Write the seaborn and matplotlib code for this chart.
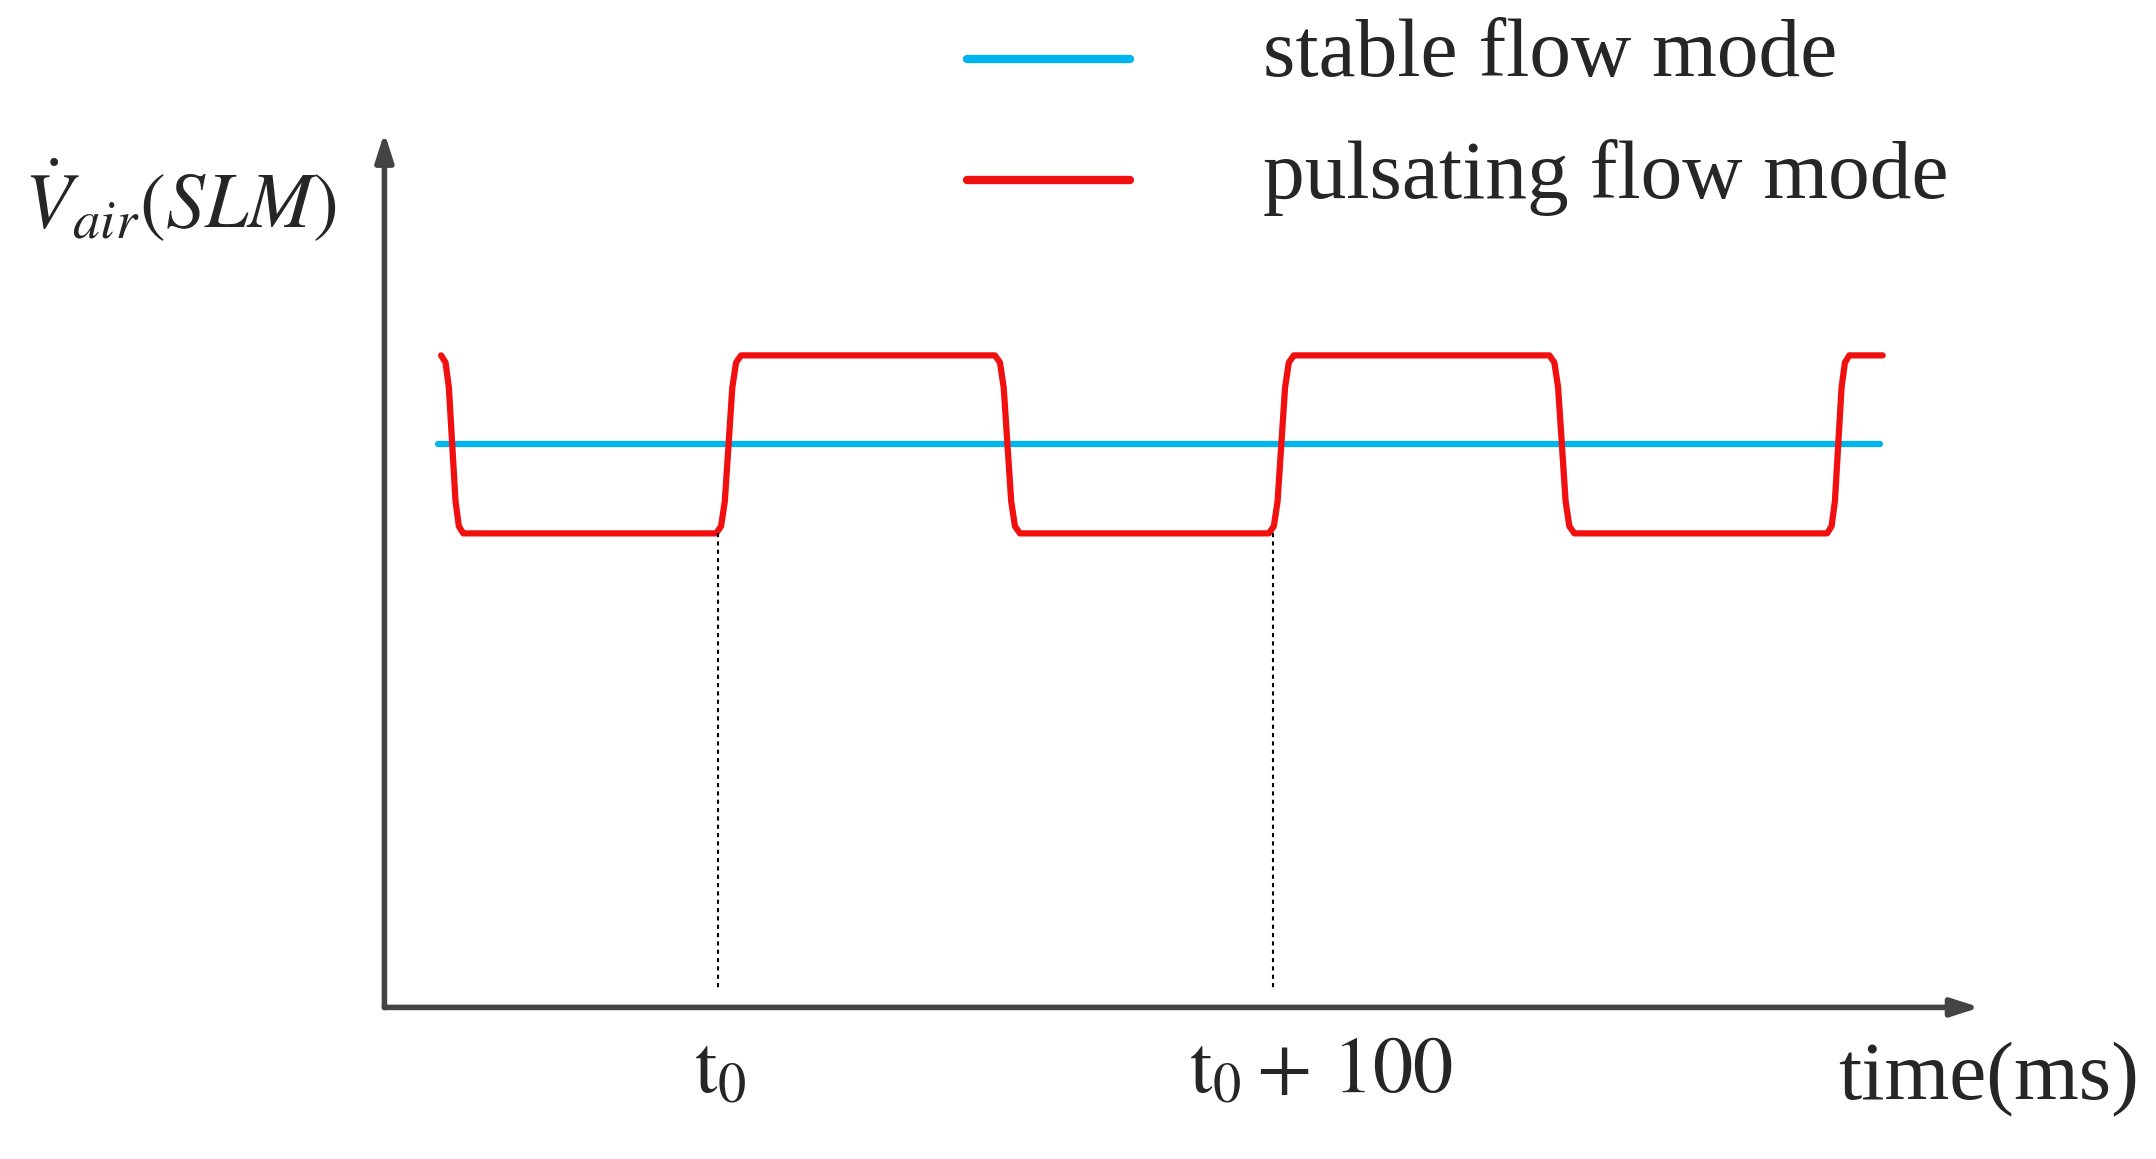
import numpy as np
import pandas as pd
import matplotlib
matplotlib.use("Agg")
import matplotlib.pyplot as plt
import seaborn as sns

sns.set_theme(style="white")
plt.rcParams['font.family'] = ['Liberation Serif', 'DejaVu Serif']
plt.rcParams['mathtext.fontset'] = 'stix'

# ---- data ----
# transitions of the pulsating flow (ms, relative to t0): (start, end, from_level, to_level)
trans_start = [-50.0, -0.5, 49.7, 99.0, 149.5, 199.5]
trans_end = [-46.0, 4.0, 54.2, 103.5, 154.0, 203.5]
trans_from = [1.3, 0.7, 1.3, 0.7, 1.3, 0.7]
trans_to = [0.7, 1.3, 0.7, 1.3, 0.7, 1.3]
t_last = 209.5
# rounded-edge template of one transition
shape_t = [0.0, 0.2, 0.35, 0.5, 0.65, 0.8, 1.0]
shape_v = [0.0, 0.04, 0.18, 0.5, 0.82, 0.96, 1.0]
stable_t = [-50.5, 209.0]
stable_v = [1.0, 1.0]
markers_t = [0.0, 100.0]
tick_labels = [r'$\mathrm{t}_{0}$', r'$\mathrm{t}_{0}+\,100$']

ts, vs = [], []
for s, e, a, b in zip(trans_start, trans_end, trans_from, trans_to):
    for ft, fv in zip(shape_t, shape_v):
        ts.append(s + ft * (e - s))
        vs.append(a + fv * (b - a))
ts.append(t_last); vs.append(trans_to[-1])
red = pd.DataFrame({"t": ts, "v": vs})
blue = pd.DataFrame({"t": stable_t, "v": stable_v})

fig = plt.figure(figsize=(21.56, 11.59), dpi=100)
ax = fig.add_axes([0, 0, 1, 1])
ax.set_xlim(-129.4, 258.7)
ax.set_ylim(-1.409, 2.498)
ax.axis('off')

sns.lineplot(data=blue, x="t", y="v", ax=ax, color="#00b4ee", lw=4.5, sort=False)
sns.lineplot(data=red, x="t", y="v", ax=ax, color="#f01010", lw=4.5, sort=False)

x_axis_y = -0.898
y_axis_x = -60.2
axc = "#444444"
ax.annotate("", xy=(227.5, x_axis_y), xytext=(y_axis_x - 0.5, x_axis_y),
            arrowprops=dict(arrowstyle="-|>,head_length=1.4,head_width=0.45", color=axc, lw=4))
ax.annotate("", xy=(y_axis_x, 2.06), xytext=(y_axis_x, x_axis_y - 0.01),
            arrowprops=dict(arrowstyle="-|>,head_length=1.4,head_width=0.45", color=axc, lw=4))

for m in markers_t:
    ax.plot([m - 0.2, m - 0.2], [0.7, -0.84], ls=(0, (2, 2)), color="black", lw=1.5)

ax.text(0.2, -1.12, tick_labels[0], fontsize=58, ha='center', va='center')
ax.text(108.5, -1.12, tick_labels[1], fontsize=58, ha='center', va='center')
ax.text(228.5, -1.14, "time(ms)", fontsize=60, ha='center', va='center')
ax.text(-125, 1.82, r'$\dot{V}_{air}(SLM)$', fontsize=56, ha='left', va='center')

# legend
ax.plot([44.7, 74.1], [2.30, 2.30], color="#00b4ee", lw=6)
ax.plot([44.7, 74.1], [1.89, 1.89], color="#f01010", lw=6)
ax.text(98.0, 2.31, "stable flow mode", fontsize=60, ha='left', va='center')
ax.text(98.0, 1.90, "pulsating flow mode", fontsize=60, ha='left', va='center')

fig.savefig("out.png", dpi=100)
